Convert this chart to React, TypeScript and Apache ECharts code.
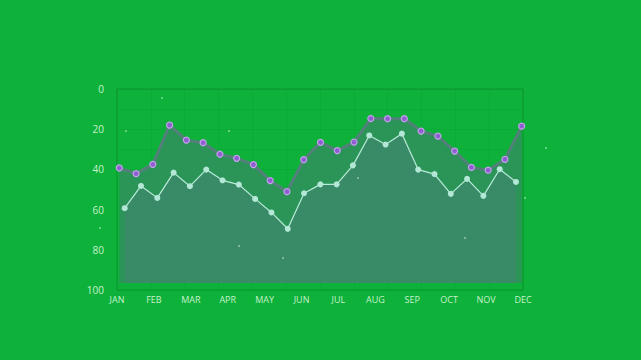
import React, { useEffect, useRef } from "react";
import * as echarts from "echarts";

const months = ["JAN", "FEB", "MAR", "APR", "MAY", "JUN", "JUL", "AUG", "SEP", "OCT", "NOV", "DEC"];
const yTicks = [0, 20, 40, 60, 80, 100];
const purpleValues = [39.6, 42.4, 37.8, 18.4, 25.8, 27.1, 32.8, 34.8, 37.9, 45.8, 51.3, 35.5, 26.9, 31.0, 26.8, 15.1, 15.2, 15.2, 21.3, 23.8, 31.2, 39.3, 40.7, 35.3, 18.9];
const whiteValues = [59.5, 48.5, 54.4, 41.9, 48.6, 40.4, 45.7, 47.8, 54.9, 61.6, 69.7, 52.1, 47.7, 47.7, 38.3, 23.5, 28.0, 22.6, 40.4, 42.6, 52.4, 45.0, 53.4, 40.2, 46.5];
const areaBase = 96.5;
const sparkles: [number, number][] = [[162, 98], [126, 131], [229, 131], [546, 148], [283, 258], [465, 238], [358, 178], [100, 228], [525, 198], [239, 246]];

export default function App() {
  const ref = useRef<HTMLDivElement>(null);
  useEffect(() => {
    if (!ref.current) return;
    const chart = echarts.init(ref.current, null, { renderer: "svg" });
    const pointCats = purpleValues.map((_, i) => String(i));
    const labelColor = "#c6f0cc";
    const font = "'Open Sans', 'Noto Sans', sans-serif";
    chart.setOption({
      animation: false,
      backgroundColor: "#0eb23a",
      grid: [
        { left: 117, top: 89, width: 406, height: 201, show: true, borderColor: "#0a9730", borderWidth: 1, backgroundColor: "transparent" },
        { left: 119.3, top: 88, width: 402.4, height: 202 },
        { left: 124.7, top: 88, width: 391.3, height: 202 },
        { left: 117, top: 89, width: 406, height: 201 },
      ],
      xAxis: [
        {
          gridIndex: 0, type: "category", data: months, boundaryGap: false,
          axisLine: { show: false }, axisTick: { show: false }, splitLine: { show: false },
          axisLabel: { color: labelColor, fontSize: 9, margin: 5, fontFamily: font },
        },
        { gridIndex: 1, type: "category", data: pointCats, boundaryGap: false, show: false },
        { gridIndex: 2, type: "category", data: pointCats, boundaryGap: false, show: false },
        {
          gridIndex: 3, type: "value", min: 0, max: 12, interval: 1,
          axisLine: { show: false }, axisTick: { show: false }, axisLabel: { show: false },
          splitLine: { show: true, lineStyle: { color: "rgba(0,90,30,0.08)", width: 1 } },
        },
      ],
      yAxis: [
        {
          gridIndex: 0, type: "value", min: 0, max: 100, interval: 20, inverse: true,
          axisLine: { show: false }, axisTick: { show: false }, splitLine: { show: false },
          axisLabel: { color: labelColor, fontSize: 10, margin: 13, fontFamily: font },
        },
        { gridIndex: 1, type: "value", min: 0, max: 100, inverse: true, show: false, splitLine: { show: false } },
        { gridIndex: 2, type: "value", min: 0, max: 100, inverse: true, show: false, splitLine: { show: false } },
        {
          gridIndex: 3, type: "value", min: 0, max: 10, interval: 1,
          axisLine: { show: false }, axisTick: { show: false }, axisLabel: { show: false },
          splitLine: { show: true, lineStyle: { color: "rgba(0,90,30,0.08)", width: 1 } },
        },
      ],
      series: [
        {
          type: "line", xAxisIndex: 1, yAxisIndex: 1, data: purpleValues, z: 3,
          symbol: "circle", symbolSize: 6,
          itemStyle: { color: "#8f5fd0", borderColor: "#c4a2ee", borderWidth: 1.2 },
          lineStyle: { color: "#53807a", width: 3 },
          areaStyle: { color: "#2b9457", opacity: 1, origin: areaBase },
        },
        {
          type: "line", xAxisIndex: 2, yAxisIndex: 2, data: whiteValues, z: 4,
          symbol: "circle", symbolSize: 6,
          itemStyle: { color: "#b4e8d6", borderWidth: 0 },
          lineStyle: { color: "#b8ecd9", width: 1.2 },
          areaStyle: { color: "#398b67", opacity: 1, origin: areaBase },
        },
      ],
      graphic: sparkles.map(([x, y]) => ({
        type: "circle", shape: { cx: x, cy: y, r: 0.9 }, style: { fill: "rgba(200,240,210,0.7)" }, silent: true, z: 10,
      })),
    });
    return () => chart.dispose();
  }, []);
  return <div ref={ref} style={{ position: "fixed", left: 0, top: 0, width: 641, height: 360 }} />;
}
